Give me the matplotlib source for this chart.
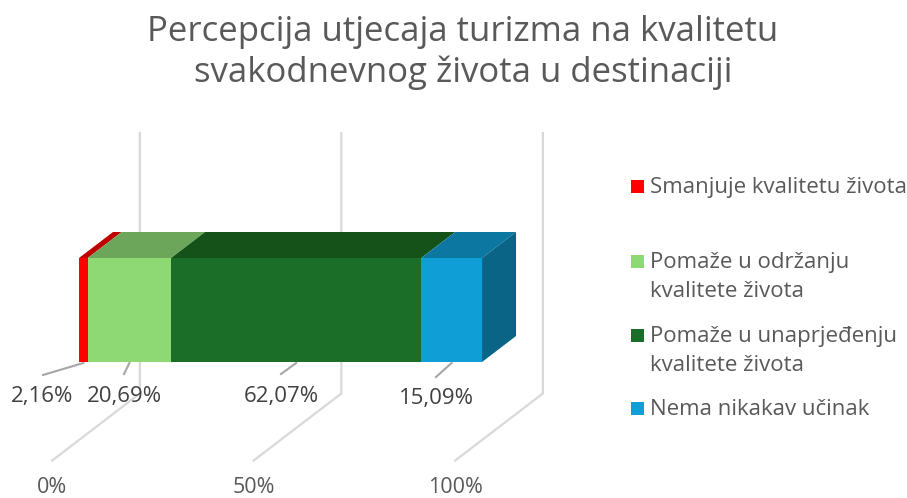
import numpy as np
import matplotlib.pyplot as plt
from matplotlib.patches import Polygon

plt.rcParams['font.family'] = ['Open Sans', 'DejaVu Sans']

title = "Percepcija utjecaja turizma na kvalitetu\nsvakodnevnog života u destinaciji"
categories = ["Smanjuje kvalitetu života",
              "Pomaže u održanju\nkvalitete života",
              "Pomaže u unaprjeđenju\nkvalitete života",
              "Nema nikakav učinak"]
values = [2.16, 20.69, 62.07, 15.09]
value_labels = ["2,16%", "20,69%", "62,07%", "15,09%"]
ticks = [0, 50, 100]
tick_labels = ["0%", "50%", "100%"]

front_colors = ["#FF0000", "#8ED973", "#1B6E27", "#0F9ED5"]
top_colors = ["#C00000", "#6BA65A", "#145219", "#0C77A1"]
side_color = "#0A6486"
text_color = "#595959"
grid_color = "#D9D9D9"

# pseudo 3d projection (pixel space)
X0, SCALE = 79, 4.03          # px at 0%, px per percent
DDX, DDY = 34, -26            # shift per unit of depth
BAR_TOP, BAR_BOT = 258, 362
FLOOR_Y, WALL_TOP = 440, 179.5
D_WALL, D_FRONT = 1.79, -0.79


def proj(pct, y, d):
    return (X0 + pct * SCALE + d * DDX, y + d * DDY)


fig = plt.figure(figsize=(9.07, 4.98), dpi=100)
ax = fig.add_axes([0, 0, 1, 1])
ax.set_xlim(0, 907)
ax.set_ylim(498, 0)
ax.axis('off')

# walls / gridlines
for t, lab in zip(ticks, tick_labels):
    pts = [proj(t, WALL_TOP, D_WALL), proj(t, FLOOR_Y, D_WALL), proj(t, FLOOR_Y, D_FRONT)]
    ax.plot([p[0] for p in pts], [p[1] for p in pts], color=grid_color, lw=1.6, zorder=1)
    fx, fy = proj(t, FLOOR_Y, D_FRONT)
    ax.text(fx, 493, lab, ha='center', va='baseline', fontsize=15.5, color=text_color)

# bars
lefts = np.concatenate([[0], np.cumsum(values)[:-1]])
rights = lefts + np.array(values)
for i in range(len(values)):
    l, r = lefts[i], rights[i]
    front = [proj(l, BAR_TOP, 0), proj(r, BAR_TOP, 0), proj(r, BAR_BOT, 0), proj(l, BAR_BOT, 0)]
    top = [proj(l, BAR_TOP, 0), proj(r, BAR_TOP, 0), proj(r, BAR_TOP, 1), proj(l, BAR_TOP, 1)]
    ax.add_patch(Polygon(top, closed=True, fc=top_colors[i], ec='none', zorder=3))
    ax.add_patch(Polygon(front, closed=True, fc=front_colors[i], ec='none', zorder=3))
    if i == len(values) - 1:
        side = [proj(r, BAR_TOP, 0), proj(r, BAR_TOP, 1), proj(r, BAR_BOT, 1), proj(r, BAR_BOT, 0)]
        ax.add_patch(Polygon(side, closed=True, fc=side_color, ec='none', zorder=3))

# data labels with leader lines
label_pos = [(42, 402), (124, 402), (281, 402), (436, 404)]
leader_end = [(43, 375), (124, 374), (281, 374), (436, 377)]
for i in range(len(values)):
    mx, my = proj((lefts[i] + rights[i]) / 2, BAR_BOT, 0)
    ex, ey = leader_end[i]
    ax.plot([mx, ex], [my + 1, ey], color="#A6A6A6", lw=1.5, zorder=2)
    ax.text(label_pos[i][0], label_pos[i][1], value_labels[i], ha='center', va='baseline',
            fontsize=16, color="#404040", zorder=4)

# title
ax.text(463, 41, title.split("\n")[0], ha='center', va='baseline', fontsize=25, color=text_color)
ax.text(463, 82, title.split("\n")[1], ha='center', va='baseline', fontsize=25, color=text_color)

# legend
leg_y = [193, 268, 342, 415]
for i, cat in enumerate(categories):
    ax.add_patch(plt.Rectangle((631, leg_y[i] - 13), 13, 13, fc=front_colors[i], ec='none'))
    for j, line in enumerate(cat.split("\n")):
        ax.text(650, leg_y[i] + j * 29, line, ha='left', va='baseline', fontsize=16, color=text_color)

fig.savefig("out.png", dpi=100)
